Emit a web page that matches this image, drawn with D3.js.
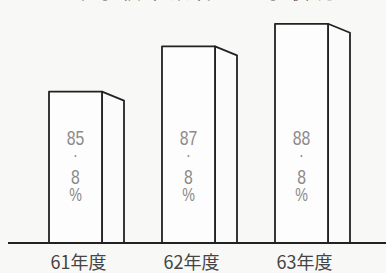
<!DOCTYPE html>
<html>
<head>
<meta charset="utf-8">
<script src="https://cdn.jsdelivr.net/npm/d3@7"></script>
<style>
  body { margin: 0; background: #f8f8f7; }
  svg { display: block; }
</style>
</head>
<body>
<div id="chart"></div>
<script>
// data
var years = ['61年度', '62年度', '63年度'];
var rates = [85.8, 87.8, 88.8];
var labelInt = ['85', '87', '88'];
var labelDec = ['8', '8', '8'];
var title = '中学校卒業者の進学状況';

var width = 386, height = 273;
var baseY = 243;

var svg = d3.select('#chart').append('svg')
	.attr('width', width)
	.attr('height', height);

var x = d3.scaleBand()
	.domain(years)
	.range([49, 328])
	.paddingInner(0.531)
	.paddingOuter(0);

var y = d3.scaleLinear()
	.domain([79.1, 89])
	.range([baseY, baseY - 9.9 * 22.6]);

var depthX = 22, depthY = 9;

// title, mostly cut off at the top edge
svg.append('text')
	.attr('x', 205)
	.attr('y', -1.5)
	.attr('text-anchor', 'middle')
	.style('font-family', '"Noto Sans CJK JP", sans-serif')
	.style('font-size', '20px')
	.style('letter-spacing', '4px')
	.attr('fill', '#555')
	.text(title);

var bars = svg.selectAll('.bar')
	.data(years)
	.enter()
	.append('g')
	.attr('class', 'bar');

// side face
bars.append('path')
	.attr('d', (d, i) => {
		var x1 = x(d) + x.bandwidth(), t = y(rates[i]);
		return d3.line()([[x1, baseY], [x1, t], [x1 + depthX, t + depthY], [x1 + depthX, baseY]]);
	})
	.attr('fill', '#fbfbfb')
	.attr('stroke', '#222')
	.attr('stroke-width', 1.8)
	.attr('stroke-linejoin', 'round');

// front face
bars.append('path')
	.attr('d', (d, i) => {
		var x0 = x(d), x1 = x0 + x.bandwidth(), t = y(rates[i]);
		return d3.line()([[x0, baseY], [x0, t], [x1, t], [x1, baseY]]);
	})
	.attr('fill', '#fdfdfd')
	.attr('stroke', '#222')
	.attr('stroke-width', 1.8)
	.attr('stroke-linejoin', 'round');

// vertical value labels, narrow and tall like the print
function vlabel(yPos, size, txt) {
	bars.append('text')
		.attr('transform', d => 'translate(' + (x(d) + x.bandwidth() / 2) + ',' + yPos + ') scale(0.75,1)')
		.attr('text-anchor', 'middle')
		.style('font-family', '"Liberation Sans", sans-serif')
		.style('font-size', size + 'px')
		.attr('fill', '#8a8a8a')
		.text(txt);
}
vlabel(145, 21, (d, i) => labelInt[i]);
vlabel(161, 14, '・');
vlabel(184, 21, (d, i) => labelDec[i]);
vlabel(201, 19, '%');

// baseline
svg.append('path')
	.attr('d', d3.line()([[8, baseY], [386, baseY]]))
	.attr('stroke', '#222')
	.attr('stroke-width', 2)
	.style('fill', 'none');

// year labels
svg.selectAll('.year')
	.data(years)
	.enter()
	.append('text')
	.attr('class', 'year')
	.attr('x', d => x(d) + x.bandwidth() / 2 + 3)
	.attr('y', 269)
	.attr('text-anchor', 'middle')
	.style('font-family', '"Noto Sans CJK JP", sans-serif')
	.style('font-size', '18px')
	.attr('fill', '#444')
	.text(d => d);
</script>
</body>
</html>
